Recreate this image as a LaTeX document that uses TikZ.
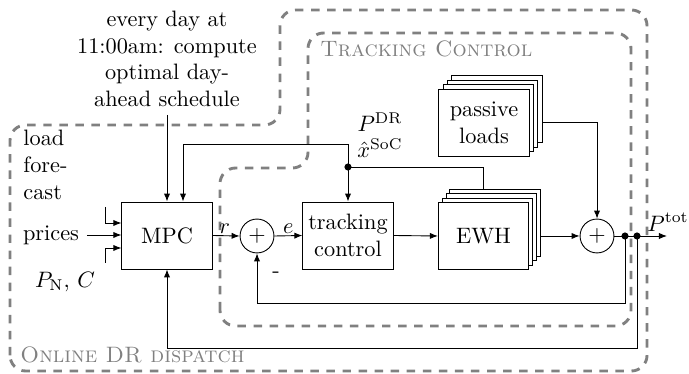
\documentclass[tikz,border=0pt]{standalone}
\usetikzlibrary{arrows.meta,calc}
\begin{document}
\begin{tikzpicture}[x=0.4484pt,y=-0.4484pt,>={Latex[length=3.6pt,width=2.8pt]},
  blk/.style={draw,fill=white,minimum width=40.5pt,minimum height=30pt,inner sep=0pt,align=center},
  sumnode/.style={draw,circle,minimum size=15.2pt,inner sep=0pt},
  region/.style={draw=gray,line width=1.3pt,dash pattern=on 3.8pt off 3.4pt,rounded corners=7pt},
  regionlabel/.style={text=gray,anchor=west,inner sep=0pt},
  dot/.style={circle,fill=black,inner sep=0pt,minimum size=3.2pt}]
\useasboundingbox (0,0) rectangle (689,374);

% dashed regions
\draw[region] (10,371) -- (10,125) -- (280,125) -- (280,10) -- (647,10) -- (647,371) -- cycle;
\draw[region] (220,326) -- (220,168) -- (308,168) -- (308,33) -- (631,33) -- (631,326) -- cycle;
\node[regionlabel] (lblT) at (320,49) {\textsc{Tracking Control}};
\node[regionlabel] (lblO) at (20,355) {\textsc{Online DR dispatch}};

% blocks
\node[blk] (mpc) at (167,235.5) {MPC};
\node[blk] (track) at (348,235.5) {tracking\\control};
\node[blk] (ewh3) at (494.8,222.5) {};
\node[blk] (ewh2) at (491.2,227) {};
\node[blk] (ewh1) at (487.5,231.5) {};
\node[blk] (ewh) at (483.5,236) {EWH};
\node[blk] (pas3) at (497,109.2) {};
\node[blk] (pas2) at (492.5,113.8) {};
\node[blk] (pas1) at (488.3,118.2) {};
\node[blk] (pas) at (484,122.5) {passive\\loads};
\node[sumnode] (sum1) at (257,236) {$+$};
\node[sumnode] (sum2) at (597,236) {$+$};

% texts
\node[align=center] (toptxt) at (167,59) {every day at\\11:00am: compute\\optimal day-\\ahead schedule};
\node[align=left,anchor=west,inner sep=0pt] (load) at (23,165) {load\\fore-\\cast};
\node (prices) at (51,235) {prices};
\node (pnc) at (65,282) {$P_{\mathrm{N}},\,C$};
\node[inner sep=0pt] (pdr) at (380,122) {$P^{\mathrm{DR}}$};
\node[inner sep=0pt] (soc) at (380,148) {$\hat{x}^{\mathrm{SoC}}$};
\node (minus) at (276,275) {-};

% coordinates
\coordinate (ia) at (105,207);
\coordinate (ib) at (105,263);
\coordinate (out) at (667,236);
\node[dot] (d1) at (625,236) {};
\node[dot] (d2) at (637,236) {};
\node[dot] (d3) at (348,167) {};
\coordinate (fb1) at (625,303);
\coordinate (fb2) at (637,348);
\coordinate (tp) at (183,144);

% connectors
\draw[->] (toptxt.south) -- (mpc.north);
\draw[->] (prices.east) -- (prices.east -| mpc.west);
\draw[->] (ia) |- ($(mpc.west)+(0,-12.5)$);
\draw[->] (ib) |- ($(mpc.west)+(0,12.5)$);
\draw[->] (mpc.east) -- node[pos=0.45,above,inner sep=1pt] {$r$} (sum1.west);
\draw[->] (sum1.east) -- node[midway,above,inner sep=1pt] {$e$} (track.west);
\draw[->] (track.east) -- (ewh.west);
\draw[->] (ewh3.east |- sum2.west) -- (sum2.west);
\draw[->] (pas3.east |- pas.east) -| (sum2.north);
\draw[->] (sum2.east) -- (out) node[above right,inner sep=0pt,xshift=-9pt,yshift=2pt] (ptot) {$P^{\mathrm{tot}}$};
\draw[->] (d1.center) -- (fb1) -| (sum1.south);
\draw[->] (d2.center) -- (fb2) -| (mpc.south);
\draw (ewh.north |- ewh3.north) |- (d3.center);
\draw[->] (d3.center) -- (track.north);
\draw[->] (d3.center) |- (tp) -- (tp |- mpc.north);
\end{tikzpicture}
\end{document}
